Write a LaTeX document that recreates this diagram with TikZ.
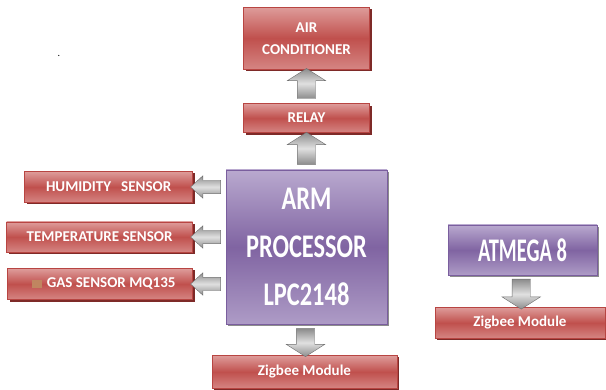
\documentclass[tikz,border=0pt]{standalone}
\usepackage{fontspec}
\setmainfont{Carlito}
\newfontfamily\condfont[FakeStretch=0.74]{Carlito}
\newfontfamily\narrowfont[FakeStretch=0.62]{Carlito}
\usepackage{tikz}
\usetikzlibrary{shapes.arrows, positioning, shadows, calc}
\definecolor{boxred}{HTML}{C0504D}
\definecolor{boxredlight}{HTML}{DE9C9A}
\definecolor{boxredline}{HTML}{B84542}
\definecolor{boxreddark}{HTML}{7E2A28}
\definecolor{boxpurple}{HTML}{8064A2}
\definecolor{boxpurplelight}{HTML}{B9A9CF}
\definecolor{boxpurpleline}{HTML}{7A5E9E}
\definecolor{arrowlight}{HTML}{E0E0E0}
\definecolor{arrowdark}{HTML}{8C8C8C}
\definecolor{arrowline}{HTML}{6E6E6E}
\definecolor{smudge}{HTML}{C08560}
\tikzset{
  redbox/.style={rectangle, draw=boxredline, top color=boxredlight, bottom color=boxredlight!70!boxred, middle color=boxred, text=white, font=\bfseries\fontsize{15}{22}\selectfont, align=center, inner sep=0pt, general shadow={fill=boxreddark, shadow xshift=2pt, shadow yshift=-2pt}},
  purplebox/.style={rectangle, draw=boxpurpleline, top color=boxpurplelight, bottom color=boxpurplelight!80!boxpurple, middle color=boxpurple, text=white, font=\condfont\bfseries\fontsize{33}{48}\selectfont, align=center, inner sep=0pt, general shadow={fill=black!45, shadow xshift=2pt, shadow yshift=-2pt}},
  blockarrow/.style={single arrow, draw=arrowline, top color=arrowdark, bottom color=arrowdark, middle color=arrowlight, inner xsep=0pt, minimum height=30pt, single arrow head indent=0pt},
  uparrow/.style={blockarrow, rotate=90, inner ysep=9pt, single arrow head extend=10pt, single arrow tip angle=115},
  downarrow/.style={uparrow, rotate=180},
  leftarrow/.style={blockarrow, rotate=180, inner ysep=6.5pt, single arrow head extend=4.5pt, single arrow tip angle=85}
}
\begin{document}
\begin{tikzpicture}[x=1pt, y=1pt]
\useasboundingbox (0,0) rectangle (606,389);

% Processor
\node (arm) [purplebox, minimum width=161pt, minimum height=154pt] at (306.5,142) {ARM\\PROCESSOR\\LPC2148};

% Relay and air conditioner
\node (relay) [redbox, minimum width=126pt, minimum height=29pt, above=37pt of arm] {RELAY};
\node (ac) [redbox, minimum width=126pt, minimum height=62pt, above=34pt of relay] {AIR\\CONDITIONER};

% Sensors
\node (hum) [redbox, minimum width=168pt, minimum height=31pt, left=33pt of arm.west, yshift=60pt] {HUMIDITY\ \ \ SENSOR};
\node (temp) [redbox, minimum width=186pt, minimum height=30pt, left=33pt of arm.west, yshift=10pt] {TEMPERATURE SENSOR};
\node (gas) [redbox, minimum width=185pt, minimum height=31pt, left=33pt of arm.west, yshift=-37pt] {\hspace{22pt}GAS SENSOR MQ135};
\fill[smudge] ($(gas.west)+(25pt,-4pt)$) rectangle ($(gas.west)+(35pt,4pt)$);

% Zigbee modules
\node (zigarm) [redbox, minimum width=185pt, minimum height=33pt, below=31pt of arm, xshift=-2pt] {Zigbee Module};
\node (atm) [purplebox, font=\narrowfont\bfseries\fontsize{33}{48}\selectfont, minimum width=149pt, minimum height=50pt] at (522.5,139) {ATMEGA 8};
\node (zigatm) [redbox, minimum width=170pt, minimum height=31pt, below=32pt of atm, xshift=-2.5pt] {Zigbee Module};

\node (dot) at (59,333) {.};

% Arrows
\path (relay.north) -- node[uparrow] {} (ac.south);
\path (arm.north) -- node[uparrow, minimum height=32pt] {} (relay.south);
\path (arm.south) -- node[downarrow, minimum height=28pt] {} (zigarm.north);
\path (atm.south) -- node[downarrow] {} (zigatm.north);
\foreach \s in {hum,temp,gas}
  \path (arm.west |- \s.east) -- node[leftarrow] {} (\s.east);

\end{tikzpicture}
\end{document}
